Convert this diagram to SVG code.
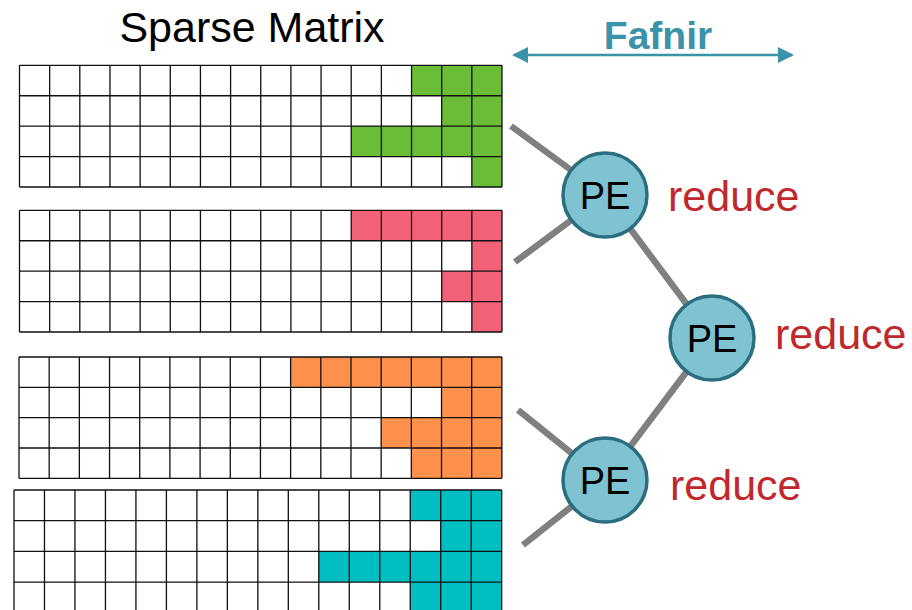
<svg xmlns="http://www.w3.org/2000/svg" width="912" height="610" viewBox="0 0 912 610">
  <defs>
    <style>
      .grid { fill: none; stroke: #111; stroke-width: 1.3; }
      .green { fill: #6bbd37; }
      .pink { fill: #f16178; }
      .orange { fill: #ff914d; }
      .teal { fill: #00bfc2; }
      .edge { stroke: #808080; stroke-width: 6.5; fill: none; }
      .pe circle { fill: #7fc3d3; stroke: #2a6e80; stroke-width: 3.5; }
      .pe text { font-family: "Liberation Sans", Arial, sans-serif; font-size: 38px; fill: #000; text-anchor: middle; }
      .lbl { font-family: "Liberation Sans", Arial, sans-serif; font-size: 43px; fill: #c0282d; }
    </style>
    <!-- 16 x 4 cell grid, 30 units per cell -->
    <path id="cells" d="M0 0V120M30 0V120M60 0V120M90 0V120M120 0V120M150 0V120M180 0V120M210 0V120M240 0V120M270 0V120M300 0V120M330 0V120M360 0V120M390 0V120M420 0V120M450 0V120M480 0V120M0 0H480M0 30H480M0 60H480M0 90H480M0 120H480"/>
    <marker id="tip" viewBox="0 0 16 16" refX="14" refY="8" markerWidth="16" markerHeight="16" markerUnits="userSpaceOnUse" orient="auto-start-reverse">
      <path d="M0 0L16 8L0 16Z" fill="#3a93a8"/>
    </marker>
  </defs>
  <rect width="912" height="610" fill="#fff"/>

  <text x="252" y="42" font-family="Liberation Sans, Arial, sans-serif" font-size="43" text-anchor="middle" fill="#000">Sparse Matrix</text>

  <!-- span arrow -->
  <g id="fafnir">
    <line x1="514" y1="55" x2="792" y2="55" stroke="#3a93a8" stroke-width="2.5" marker-start="url(#tip)" marker-end="url(#tip)"/>
    <text x="658" y="49" font-family="Liberation Sans, Arial, sans-serif" font-size="39" font-weight="bold" text-anchor="middle" fill="#3a93a8">Fafnir</text>
  </g>

  <!-- matrix blocks -->
  <g id="block1" transform="translate(19.5 65.3) scale(1.0052 1.014)">
    <rect width="480" height="120" fill="#fff"/>
    <rect class="green" x="390" y="0" width="90" height="30"/>
    <rect class="green" x="420" y="30" width="60" height="30"/>
    <rect class="green" x="330" y="60" width="150" height="30"/>
    <rect class="green" x="450" y="90" width="30" height="30"/>
    <use href="#cells" class="grid"/>
  </g>
  <g id="block2" transform="translate(19.5 210.3) scale(1.0052 1.014)">
    <rect width="480" height="120" fill="#fff"/>
    <rect class="pink" x="330" y="0" width="150" height="30"/>
    <rect class="pink" x="450" y="30" width="30" height="30"/>
    <rect class="pink" x="420" y="60" width="60" height="30"/>
    <rect class="pink" x="450" y="90" width="30" height="30"/>
    <use href="#cells" class="grid"/>
  </g>
  <g id="block3" transform="translate(19 357) scale(1.006 1.011)">
    <rect width="480" height="120" fill="#fff"/>
    <rect class="orange" x="270" y="0" width="210" height="30"/>
    <rect class="orange" x="420" y="30" width="60" height="30"/>
    <rect class="orange" x="360" y="60" width="120" height="30"/>
    <rect class="orange" x="390" y="90" width="90" height="30"/>
    <use href="#cells" class="grid"/>
  </g>
  <g id="block4" transform="translate(14 490) scale(1.016 1.023)">
    <rect width="480" height="120" fill="#fff"/>
    <rect class="teal" x="390" y="0" width="90" height="30"/>
    <rect class="teal" x="420" y="30" width="60" height="30"/>
    <rect class="teal" x="300" y="60" width="180" height="30"/>
    <rect class="teal" x="390" y="90" width="90" height="30"/>
    <use href="#cells" class="grid"/>
  </g>

  <!-- reduction tree links -->
  <g id="connectors">
    <line class="edge" x1="511" y1="126" x2="605" y2="195"/>
    <line class="edge" x1="515" y1="262" x2="605" y2="195"/>
    <line class="edge" x1="605" y1="195" x2="712" y2="338"/>
    <line class="edge" x1="712" y1="338" x2="605" y2="480"/>
    <line class="edge" x1="518" y1="410" x2="605" y2="480"/>
    <line class="edge" x1="523" y1="545" x2="605" y2="480"/>
  </g>

  <g id="pe1" class="pe">
    <circle cx="605" cy="195" r="42"/>
    <text x="605" y="209">PE</text>
  </g>
  <g id="pe2" class="pe">
    <circle cx="712" cy="338" r="42"/>
    <text x="712" y="352">PE</text>
  </g>
  <g id="pe3" class="pe">
    <circle cx="605" cy="480" r="42"/>
    <text x="605" y="494">PE</text>
  </g>

  <g id="labels">
    <text class="lbl" x="668" y="211">reduce</text>
    <text class="lbl" x="775" y="349">reduce</text>
    <text class="lbl" x="670" y="500">reduce</text>
  </g>
</svg>
